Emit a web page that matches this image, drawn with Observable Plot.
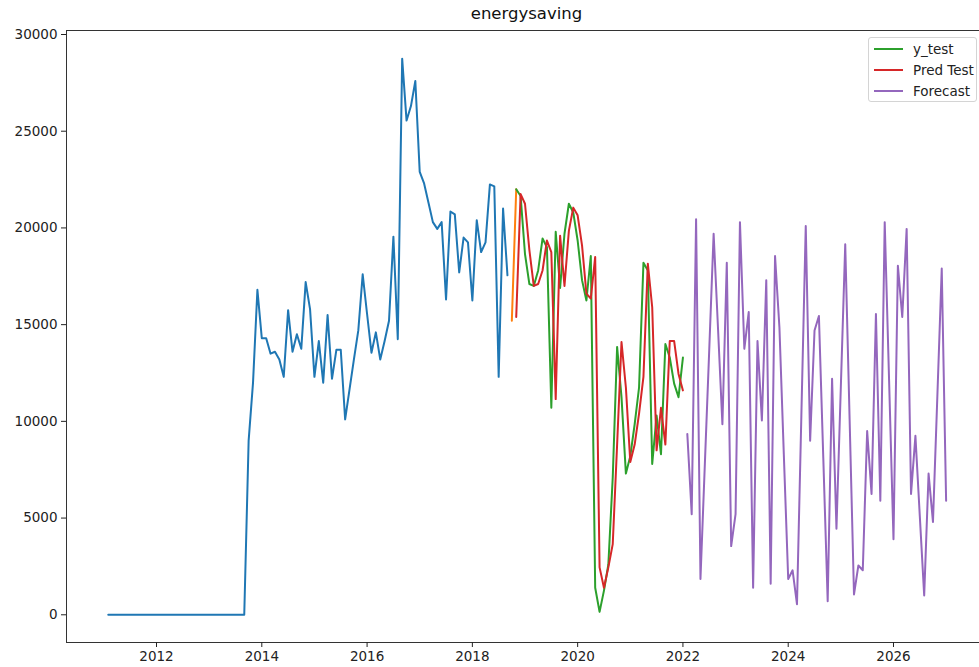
<!DOCTYPE html>
<html>
<head>
<meta charset="utf-8">
<script src="https://cdn.jsdelivr.net/npm/d3@7"></script>
<script src="https://cdn.jsdelivr.net/npm/@observablehq/plot@0.6"></script>
<style>
  html, body { margin: 0; padding: 0; background: #fff; overflow: hidden; }
  #wrap { position: relative; width: 979px; height: 667px; font-family: "DejaVu Sans", sans-serif; }
  #title { position: absolute; left: 66px; width: 921px; top: 4px; height: 20px; line-height: 20px;
           text-align: center; font-size: 16.5px; color: #111; }
  #chart { position: absolute; left: 0; top: 20px; }
  #legend { position: absolute; left: 868px; top: 37px; width: 109px; height: 65px; box-sizing: border-box;
            border: 1px solid #d4d4d4; border-radius: 3px; background: rgba(255,255,255,0.85); }
  #legend .item { position: absolute; left: 0; height: 20px; width: 100%; }
  #legend svg { position: absolute; left: 4px; top: 0; }
  #legend span { position: absolute; left: 44px; top: 0; line-height: 20px; font-size: 13.5px; color: #222; white-space: nowrap; }
</style>
</head>
<body>
<div id="wrap">
  <div id="title">energysaving</div>
  <div id="chart"></div>
  <div id="legend"></div>
</div>
<script>
// Monthly values (month-end dates); each series starts at [year, month]
const trainStart = [2011, 1];
const trainValues = [
  0, 0, 0, 0, 0, 0, 0, 0, 0, 0, 0, 0,            // 2011
  0, 0, 0, 0, 0, 0, 0, 0, 0, 0, 0, 0,            // 2012
  0, 0, 0, 0, 0, 0, 0, 0, 9000, 12000, 16800, 14300, // 2013
  14300, 13500, 13600, 13200, 12300, 15750, 13600, 14500, 13750, 17200, 15800, 12300, // 2014
  14150, 12000, 15500, 12200, 13700, 13700, 10100, 11650, 13200, 14700, 17600, 15550, // 2015
  13550, 14600, 13200, 14150, 15200, 19550, 14250, 28750, 25550, 26300, 27600, 22900, // 2016
  22300, 21300, 20300, 19950, 20300, 16300, 20850, 20700, 17700, 19500, 19250, 16250, // 2017
  20400, 18750, 19250, 22250, 22150, 12300, 21000, 17550                              // 2018
];

const valStart = [2018, 9];
const valValues = [15200, 22000];

const testStart = [2018, 10];
const testValues = [
  22000, 21650, 18650,
  17100, 17000, 17800, 19450, 19000, 10700, 19800, 16900, 19700, 21250, 20800, 19350,
  17300, 16250, 18550, 1400, 150, 1250, 2600, 7100, 13850, 11250, 7300, 8200,
  9850, 11750, 18200, 17800, 7800, 10300, 8300, 14000, 13300, 11950, 11250, 13300
];
const predValues = [
  15400, 21750, 21250,
  18850, 17000, 17100, 17800, 19350, 18750, 11150, 19600, 17000, 19850, 21050, 20650,
  19100, 16600, 16350, 18500, 2450, 1400, 2450, 3650, 8800, 14100, 11750, 7900,
  8800, 10400, 12300, 18150, 15900, 8500, 10700, 8800, 14150, 14150, 12450, 11600
];

const forecastStart = [2022, 1];
const forecastValues = [
  9350, 5200, 20450, 1850, 7800, 13700, 19700, 14800, 9850, 18200, 3550, 5200,     // 2022
  20300, 13750, 15650, 1400, 14150, 10050, 17300, 1600, 18550, 14850, 8300, 1850,  // 2023
  2300, 550, 10300, 20100, 9000, 14700, 15450, 8100, 700, 12200, 4450, 11800,      // 2024
  19150, 10100, 1050, 2550, 2300, 9500, 6250, 15550, 5900, 20300, 12100, 3900,     // 2025
  18050, 15400, 19950, 6250, 9250, 5100, 1000, 7300, 4800, 11300, 17900, 5900      // 2026
];

const xTicks = [2012, 2014, 2016, 2018, 2020, 2022, 2024, 2026];
const yTicks = [0, 5000, 10000, 15000, 20000, 25000, 30000];

const legendLabels = ["y_test", "Pred Test", "Forecast"];
const palette = { train: "#1f77b4", val: "#ff7f0e", test: "#2ca02c", pred: "#d62728", forecast: "#9467bd" };
const legendColors = [palette.test, palette.pred, palette.forecast];

// decimal year at the end of month (start month + i)
const toRows = (start, values) =>
  values.map((v, i) => ({ x: start[0] + (start[1] + i) / 12, y: v }));

const train = toRows(trainStart, trainValues);
const val = toRows(valStart, valValues);
const test = toRows(testStart, testValues);
const pred = toRows(testStart, predValues);
const forecast = toRows(forecastStart, forecastValues);

const lineOpts = (stroke) => ({ x: "x", y: "y", stroke, strokeWidth: 2 });

const chart = Plot.plot({
  width: 979,
  height: 647,
  marginTop: 10,
  marginBottom: 25,
  marginLeft: 66,
  marginRight: 0,
  style: { fontFamily: "DejaVu Sans, sans-serif", fontSize: "13.5px", color: "#222", background: "transparent" },
  x: { domain: [2010.29, 2027.634] },
  y: { domain: [-1433, 30207] },
  marks: [
    Plot.frame({ anchor: "top", stroke: "#333" }),
    Plot.frame({ anchor: "left", stroke: "#333" }),
    Plot.frame({ anchor: "bottom", stroke: "#333" }),
    Plot.axisX({ ticks: xTicks, tickFormat: "d", tickSize: 5, tickPadding: 4, label: null }),
    Plot.axisY({ ticks: yTicks, tickFormat: "d", tickSize: 5, tickPadding: 4, label: null }),
    Plot.line(train, lineOpts(palette.train)),
    Plot.line(val, lineOpts(palette.val)),
    Plot.line(test, lineOpts(palette.test)),
    Plot.line(pred, lineOpts(palette.pred)),
    Plot.line(forecast, lineOpts(palette.forecast))
  ]
});
document.getElementById("chart").append(chart);

// legend box in the upper right of the axes
const legend = document.getElementById("legend");
const rowTops = [1, 22, 43];
legendLabels.forEach((label, i) => {
  const item = document.createElement("div");
  item.className = "item";
  item.style.top = rowTops[i] + "px";
  item.innerHTML =
    `<svg width="32" height="20"><line x1="1" x2="30" y1="10" y2="10" stroke="${legendColors[i]}" stroke-width="2"/></svg>` +
    `<span>${label}</span>`;
  legend.append(item);
});
</script>
</body>
</html>
